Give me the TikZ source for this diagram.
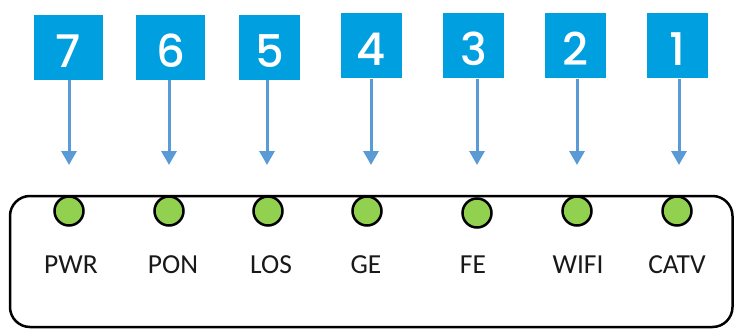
\documentclass[tikz,border=0pt]{standalone}
\usepackage{fontspec}
\setmainfont{Carlito}
\newfontfamily\digitfont{Poppins Medium}
\usetikzlibrary{arrows.meta, positioning}
\definecolor{portblue}{RGB}{0, 160, 224}
\definecolor{arrowblue}{RGB}{91, 155, 213}
\definecolor{ledgreen}{RGB}{146, 208, 80}
\tikzset{
    numbox/.style={fill=portblue, text=white, minimum height=65pt, inner sep=0pt,
                   text height=39pt, text depth=0pt,
                   font=\digitfont\fontsize{45}{45}\selectfont},
    led/.style={circle, draw=black, line width=2.5pt, fill=ledgreen,
                minimum size=29pt, inner sep=0pt},
    ledname/.style={font=\fontsize{27.5}{27.5}\selectfont, text=black!90},
    pointer/.style={arrowblue, line width=3pt, -{Triangle[width=15pt,length=14pt]}}
}

\begin{document}
\begin{tikzpicture}[x=1pt, y=-1pt]
    \useasboundingbox (0,0) rectangle (734,329);
    % Panel outline
    \draw[line width=2.5pt, rounded corners=20pt] (10,196) rectangle (732.5,327);
    % Numbered boxes and their pointers
    \foreach \n/\bx/\bw/\by/\ax in {7/68.5/69/47.5/69, 6/170.5/69/47.5/169,
                                     5/269.5/61/47.5/267, 4/371.5/61/46/371,
                                     3/473.5/61/46/477, 2/575.5/61/46/577,
                                     1/677.5/61/46/679} {
        \node[numbox, minimum width=\bw pt] (num\n) at (\bx,\by) {\n};
        \coordinate (tip\n) at (\ax,165);
        \draw[pointer] (tip\n |- num\n.south) -- (tip\n);
    }
    % LEDs and their names
    \foreach \n/\lx/\ly/\tx/\txt in {7/69/211/71/PWR, 6/169/211/173/PON,
                                     5/268/211/271/LOS, 4/367/211/366/GE,
                                     3/477/213/473/FE, 2/577/211/578/WIFI,
                                     1/677/211/677/CATV} {
        \node[led] (led\n) at (\lx,\ly) {};
        \node[ledname] (name\n) at (\tx,265) {\txt};
    }
\end{tikzpicture}
\end{document}
